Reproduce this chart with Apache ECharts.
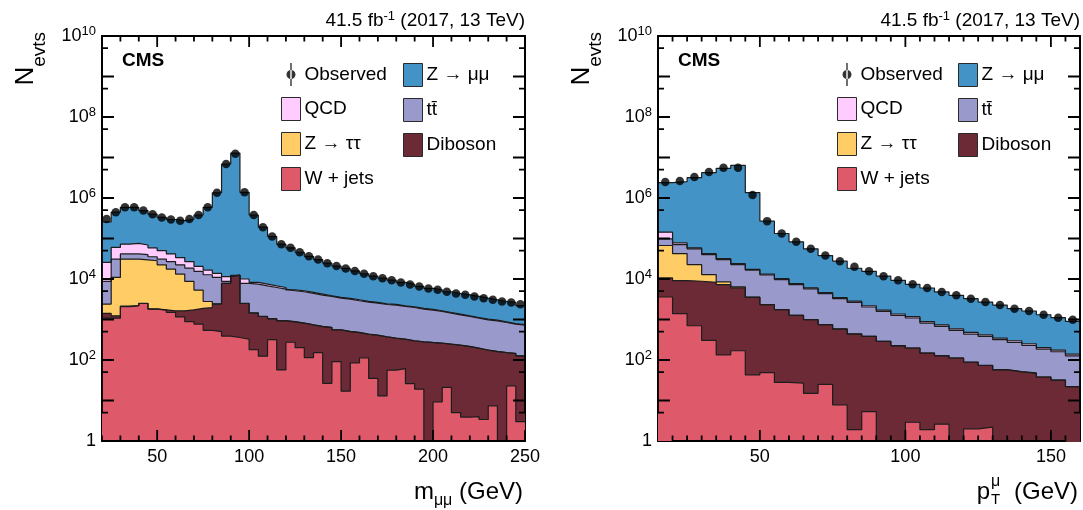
<!DOCTYPE html>
<html><head><meta charset="utf-8">
<script src="https://cdn.jsdelivr.net/npm/echarts/dist/echarts.min.js"></script>
<style>html,body{margin:0;padding:0;background:#fff}#c{width:1083px;height:510px}</style>
</head><body><div id="c"></div>
<script>
// ---------- bin edges (GeV) ----------
const massEdges = [20,25,30,35,40,45,50,55,60,65,70,75,80,85,90,95,100,105,110,115,120,125,130,135,140,145,150,155,160,165,170,175,180,185,190,195,200,205,210,215,220,225,230,235,240,245,250];
const ptEdges = [15,20,25,30,35,40,45,50,55,60,65,70,75,80,85,90,95,100,105,110,115,120,125,130,135,140,145,150,155,160];

// ---------- m_mumu panel: events per bin ----------
const massWjets = [1080,1080,2090,2180,2480,1800,1700,1490,1160,890,770,540,500,390,360,325,181,124,319,57,274,202,115,152,26.5,91,17,85,112,35,13,56,61,26,19,0,9.3,21,5,3.9,4,3.4,7.4,0,23,3];
const massDiboson = [330,154,44,35,29,21,36,151,476,843,1105,1434,1889,7376,11660,2158,1251,1062,719,868,601,609,621,518,606,462,487,390,321,373,359,288,264,270,260,269,250,224,226,210,191,171,154,152,121,123];
const massZtautau = [990,9730,28760,28690,27000,26360,20660,15940,11570,6980,3440,810,34,36,30,29,18,10,9,8,7,7,6,6,5,5,5,4,4,4,3,3,3,3,3,2,2,2,2,2,2,2,2,1,1,1];
const massTtbar = [6300,19940,10790,10790,10300,7300,8510,9340,9180,9910,10180,9950,8530,910,250,5250,6030,5570,5130,4700,4240,4020,3660,3330,3080,2810,2680,2420,2250,2130,1970,1920,1770,1680,1520,1430,1320,1190,1070,970,880,805,764,689,622,597];
const massQCD = [17000,29360,30750,34170,29370,23400,19220,14770,11490,8300,4930,3860,2840,2770,290,2240,740,720,595,543,253,286,250,227,139,134,120,171,107,95,94,85,84,79,72,68,63,54,49,44,43,37,37,34,28,29];
const massZmumu = [231000,386000,516000,513000,421000,339000,281000,253000,241500,275000,360000,572000,1335000,6907000,12870000,1370000,372000,183000,105400,66300,53500,40600,31700,26000,20700,17400,14900,12800,10700,9120,8030,6990,6040,5290,4680,4080,3780,3350,3040,2840,2590,2350,2100,1910,1840,1440];
const massObserved = [302000,447000,589000,589000,490000,398000,331000,295000,275000,302000,380000,589000,1349000,6918000,12300000,1380000,380000,190500,112200,72400,58900,45700,36300,30200,24500,20900,18200,15800,13500,11700,10500,9330,8220,7350,6550,5850,5420,4830,4400,4070,3710,3370,3060,2790,2630,2390];

// ---------- pT panel: events per bin ----------
const ptWjets = [3597,1393,701,304,134,169,43,49,28,27,15,25,7.8,1.9,5.3,0,0,2.9,1.9,2.6,0,2.0,2.2,0,0,0,0,0,0];
const ptDiboson = [7020,7727,8089,7995,7127,5843,3489,2274,1718,1238,974,718,573,435,377,287,224,193,146,124,111,86,71,57,51,47,38,32,22];
const ptZtautau = [56520,33440,13910,4551,1192,356,20,10,8,6,5,4,3,3,2,2,2,2,1,1,1,1,1,1,1,1,0,0,0];
const ptTtbar = [31030,28400,32760,27330,21750,16330,12890,10260,7905,5986,4686,3612,2692,2218,1650,1302,1041,890,669,549,427,348,309,259,221,182,147,128,105];
const ptQCD = [45430,7200,3000,2000,1500,1200,900,700,550,450,350,280,220,180,150,120,100,85,70,60,50,42,36,30,26,22,18,16,13];
const ptZmumu = [2244000,2451000,3118000,4178000,5378000,6386000,1333000,255000,122800,74900,49500,33300,24000,15570,13300,10000,7925,6230,5110,4050,3360,2790,2280,1930,1550,1370,1107,934,757];
const ptObserved = [2480000,2620000,3300000,4390000,5610000,5610000,1183000,268500,133000,82600,55500,37900,27500,20000,15500,11700,9290,7400,6000,4790,3950,3270,2700,2280,1850,1620,1310,1110,990];

// ---------- ticks ----------
const massMajorTicks = [50,100,150,200,250];
const massMinorTicks = [20,30,40,60,70,80,90,110,120,130,140,160,170,180,190,210,220,230,240];
const ptMajorTicks = [50,100,150];
const ptMinorTicks = [20,25,30,35,40,45,55,60,65,70,75,80,85,90,95,105,110,115,120,125,130,135,140,145,155];
const yMajorTicks = [10,100,1e3,1e4,1e5,1e6,1e7,1e8,1e9];
const yLabelValues = [1,1e2,1e4,1e6,1e8,1e10];
const yMinorTicks = [5,50,500,5e3,5e4,5e5,5e6,5e7,5e8,5e9];

const processNames = ['W + jets','Diboson','Z → ττ','tt̄','QCD','Z → μμ'];
const processColors = ['#de5a6a','#6c2a36','#ffcc66','#9999cc','#ffccff','#4393c6'];

const FONT = '"Liberation Sans", Arial, Helvetica, sans-serif';
const grids = [{left:102, top:36, width:423, height:405}, {left:658, top:36, width:422, height:405}];
const xRanges = [[20, 250], [15, 160]];
const Y_MIN = 1, Y_MAX = 1e10;

function stepPoints(edges, vals) {
  const floor = v => (v > 0 ? v : 0.01);
  const pts = vals.map((v, i) => [edges[i], floor(v)]);
  pts.push([edges[vals.length], floor(vals[vals.length - 1])]);
  return pts;
}
function cumulate(layers) {
  const out = [];
  let run = layers[0].map(() => 0);
  layers.forEach(l => { run = run.map((v, i) => v + l[i]); out.push(run); });
  return out;
}
const frameLine = {show:true, onZero:false, lineStyle:{color:'#000', width:2}};
function makeXAxes(p, major) {
  const base = {gridIndex:p, type:'value', min:xRanges[p][0], max:xRanges[p][1], splitLine:{show:false}, axisTick:{show:false}, axisLine:frameLine};
  return [
    Object.assign({}, base, {position:'bottom',
      axisLabel:{show:true, customValues:major, fontSize:18, fontFamily:FONT, color:'#000', margin:7}}),
    Object.assign({}, base, {position:'top', axisLabel:{show:false}})
  ];
}
function makeYAxes(p) {
  const base = {gridIndex:p, type:'log', logBase:10, min:Y_MIN, max:Y_MAX, splitLine:{show:false}, axisTick:{show:false}, axisLine:frameLine};
  return [
    Object.assign({}, base, {position:'left',
      axisLabel:{show:true, customValues:yLabelValues, margin:6,
        formatter: v => { const e = Math.round(Math.log10(v)); return e === 0 ? '{b|1}' : '{b|10}{s|' + e + '}'; },
        rich:{b:{fontSize:18, fontFamily:FONT, color:'#000', lineHeight:22},
              s:{fontSize:13, fontFamily:FONT, color:'#000', lineHeight:13, verticalAlign:'top'}}}}),
    Object.assign({}, base, {position:'right', axisLabel:{show:false}})
  ];
}
function makeSeries(p, edges, layers, observed) {
  const cum = cumulate(layers);
  const out = [];
  for (let k = layers.length - 1; k >= 0; k--) {
    out.push({type:'line', name:processNames[k], xAxisIndex:p*2, yAxisIndex:p*2,
      data:stepPoints(edges, cum[k]), step:'end', symbol:'none', showSymbol:false, clip:true, silent:true,
      lineStyle:{color:'#1c1c1c', width:1.2}, itemStyle:{color:processColors[k]},
      areaStyle:{color:processColors[k], opacity:1, origin:'start'}, z:2});
  }
  const centers = observed.map((v, i) => (edges[i] + edges[i+1]) / 2);
  out.push({type:'scatter', name:'Observed', xAxisIndex:p*2, yAxisIndex:p*2,
    data:observed.map((v, i) => [centers[i], v]), symbol:'circle', symbolSize:8.5,
    itemStyle:{color:'#000'}, silent:true, z:5});
  return out;
}
// inward frame ticks on all four sides: short polylines through the axes' scales
// (named like a legend entry so that legend filtering keeps them visible)
function makeTickSeries(p, xMajor, xMinor) {
  const g = grids[p], xr = xRanges[p];
  const decadePx = g.height / Math.log10(Y_MAX / Y_MIN);
  const unitPx = g.width / (xr[1] - xr[0]);
  const xs = xMajor.map(v => [v, 11]).concat(xMinor.map(v => [v, 5.5])).sort((a, b) => a[0] - b[0]);
  const ys = yMajorTicks.map(v => [v, 12]).concat(yMinorTicks.map(v => [v, 6])).sort((a, b) => a[0] - b[0]);
  const bottom = [], top = [], left = [], right = [];
  xs.forEach(([v, len]) => {
    const f = Math.pow(10, len / decadePx);
    bottom.push([v, Y_MIN], [v, Y_MIN * f], [v, Y_MIN]);
    top.push([v, Y_MAX], [v, Y_MAX / f], [v, Y_MAX]);
  });
  ys.forEach(([v, len]) => {
    const d = len / unitPx;
    left.push([xr[0], v], [xr[0] + d, v], [xr[0], v]);
    right.push([xr[1], v], [xr[1] - d, v], [xr[1], v]);
  });
  return [bottom, top, left, right].map(pts => ({type:'line', name:'Observed', xAxisIndex:p*2, yAxisIndex:p*2, data:pts,
    symbol:'none', showSymbol:false, silent:true, clip:true, z:6, lineStyle:{color:'#000', width:1.8}, itemStyle:{color:'#000'}}));
}

const legendItem = name => {
  if (name === 'Observed') return {name:name, icon:'path://M9,0 L10.4,0 L10.4,23 L9,23 Z M5.2,11.5 A4.5,4.5 0 1 0 14.2,11.5 A4.5,4.5 0 1 0 5.2,11.5 Z', itemStyle:{color:'#000', borderWidth:0}};
  const k = processNames.indexOf(name);
  return {name:name, icon:'rect', itemStyle:{color:processColors[k], borderColor:'#2a2a2a', borderWidth:1}};
};
const col1 = ['Observed','QCD','Z → ττ','W + jets'];
const col2 = ['Z → μμ','tt̄','Diboson'];
function legend(left, names) {
  return {left:left, top:63, orient:'vertical', itemWidth:19, itemHeight:23, itemGap:11, padding:0,
    selectedMode:false, textStyle:{fontSize:19, fontFamily:FONT, color:'#000', padding:[0,0,0,-1]},
    data:names.map(legendItem)};
}

const graphics = [];
grids.forEach((g, p) => {
  const L = g.left, R = g.left + g.width;
  graphics.push({type:'text', x:R, y:21, z:100, style:{text:'{a|41.5 fb}{s|-1}{a| (2017, 13 TeV)}', align:'right', verticalAlign:'middle',
    rich:{a:{fontSize:19, fontFamily:FONT, fill:'#000', lineHeight:22}, s:{fontSize:13, fontFamily:FONT, fill:'#000', lineHeight:13, verticalAlign:'top'}}}});
  graphics.push({type:'text', x:L+20, y:61, z:100, style:{text:'CMS', fontSize:19, fontWeight:'bold', fontFamily:FONT, fill:'#000', align:'left', verticalAlign:'middle'}});
  graphics.push({type:'text', x:L-76, y:32, rotation:Math.PI/2, z:100, style:{text:'{n|N}{e|evts}', align:'right', verticalAlign:'middle',
    rich:{n:{fontSize:26, fontFamily:FONT, fill:'#000', lineHeight:26, verticalAlign:'top'}, e:{fontSize:19, fontFamily:FONT, fill:'#000', lineHeight:19, padding:[17,0,0,0], verticalAlign:'top'}}}});
});
// x-axis titles
graphics.push({type:'text', x:523, y:480, z:100, style:{text:'{a|m}{sub|μμ}{a| (GeV)}', align:'right', verticalAlign:'top',
  rich:{a:{fontSize:24, fontFamily:FONT, fill:'#000', lineHeight:28, verticalAlign:'top'}, sub:{fontSize:16, fontFamily:FONT, fill:'#000', lineHeight:16, padding:[13,0,0,0], verticalAlign:'top'}}}});
graphics.push({type:'text', x:1078, y:480, z:100, style:{text:'(GeV)', fontSize:24, fontFamily:FONT, fill:'#000', align:'right', verticalAlign:'top'}});
graphics.push({type:'text', x:990, y:480, z:100, style:{text:'p', fontSize:24, fontFamily:FONT, fill:'#000', align:'right', verticalAlign:'top'}});
graphics.push({type:'text', x:991, y:474, z:100, style:{text:'μ', fontSize:16, fontFamily:FONT, fill:'#000', align:'left', verticalAlign:'top'}});
graphics.push({type:'text', x:991, y:492, z:100, style:{text:'T', fontSize:15, fontFamily:FONT, fill:'#000', align:'left', verticalAlign:'top'}});

const option = {
  animation:false,
  backgroundColor:'#fff',
  grid:grids,
  xAxis:[].concat(makeXAxes(0, massMajorTicks), makeXAxes(1, ptMajorTicks)),
  yAxis:[].concat(makeYAxes(0), makeYAxes(1)),
  legend:[legend(281, col1), legend(403, col2), legend(837, col1), legend(958, col2)],
  series:[].concat(
    makeSeries(0, massEdges, [massWjets, massDiboson, massZtautau, massTtbar, massQCD, massZmumu], massObserved),
    makeSeries(1, ptEdges, [ptWjets, ptDiboson, ptZtautau, ptTtbar, ptQCD, ptZmumu], ptObserved),
    makeTickSeries(0, massMajorTicks, massMinorTicks),
    makeTickSeries(1, ptMajorTicks, ptMinorTicks)),
  graphic:graphics
};
const chart = echarts.init(document.getElementById('c'), null, {renderer:'canvas'});
chart.setOption(option);

// fallback: tick marks as graphic lines, positioned with the axes' own data->pixel conversion
let tickGraphicsDone = false;
function addTickGraphics() {
  if (tickGraphicsDone) return;
  tickGraphicsDone = true;
  try {
    const els = [];
    const st = {stroke:'#000', lineWidth:1.8};
    const ok = a => a.every(n => typeof n === 'number' && isFinite(n));
    const add = (x1, y1, x2, y2) => { if (ok([x1, y1, x2, y2])) els.push({type:'line', z:60, silent:true, shape:{x1:x1, y1:y1, x2:x2, y2:y2}, style:st}); };
    const panelTicks = [[massMajorTicks, massMinorTicks], [ptMajorTicks, ptMinorTicks]];
    grids.forEach((g, p) => {
      const xi = {xAxisIndex:p*2}, yi = {yAxisIndex:p*2};
      const yB = chart.convertToPixel(yi, Y_MIN), yT = chart.convertToPixel(yi, Y_MAX);
      const xL = chart.convertToPixel(xi, xRanges[p][0]), xR = chart.convertToPixel(xi, xRanges[p][1]);
      const xt = (v, len) => { const x = chart.convertToPixel(xi, v); add(x, yB, x, yB - len); add(x, yT, x, yT + len); };
      const yt = (v, len) => { const y = chart.convertToPixel(yi, v); add(xL, y, xL + len, y); add(xR, y, xR - len, y); };
      panelTicks[p][0].forEach(v => xt(v, 11));
      panelTicks[p][1].forEach(v => xt(v, 5.5));
      yMajorTicks.forEach(v => yt(v, 12));
      yMinorTicks.forEach(v => yt(v, 6));
    });
    if (els.length) chart.setOption({graphic: graphics.concat(els)});
  } catch (e) { /* keep the chart as drawn */ }
}
chart.on('finished', addTickGraphics);
</script>
</body></html>
